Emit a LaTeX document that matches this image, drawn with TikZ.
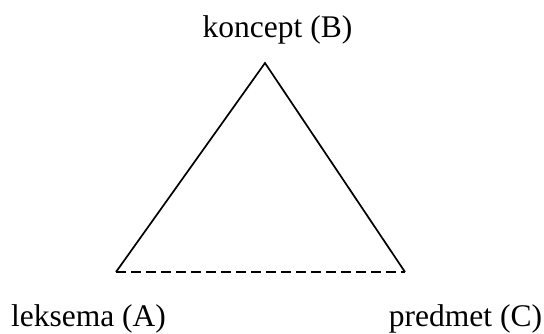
\documentclass[tikz,border=0pt]{standalone}
\usepackage{fontspec}
\setmainfont{Liberation Serif}
\begin{document}
\begin{tikzpicture}[x=1pt,y=-1pt,
  lbl/.style={font=\fontsize{31.5}{36}\selectfont, inner sep=0pt, anchor=base},
  side/.style={line width=1.7pt, line join=miter},
  base/.style={line width=1.7pt, dash pattern=on 10pt off 5pt}]
\useasboundingbox (0,0) rectangle (544,333);
\coordinate (B) at (265,63);
\coordinate (A) at (116,272);
\coordinate (C) at (405,272);
\draw[side] (A) -- (B) -- (C);
\draw[base] (A) -- (C);
\node[lbl] (lb) at (277.5,37) {koncept (B)};
\node[lbl] (la) at (88.5,326) {leksema (A)};
\node[lbl] (lc) at (465.5,326) {predmet (C)};
\end{tikzpicture}
\end{document}
